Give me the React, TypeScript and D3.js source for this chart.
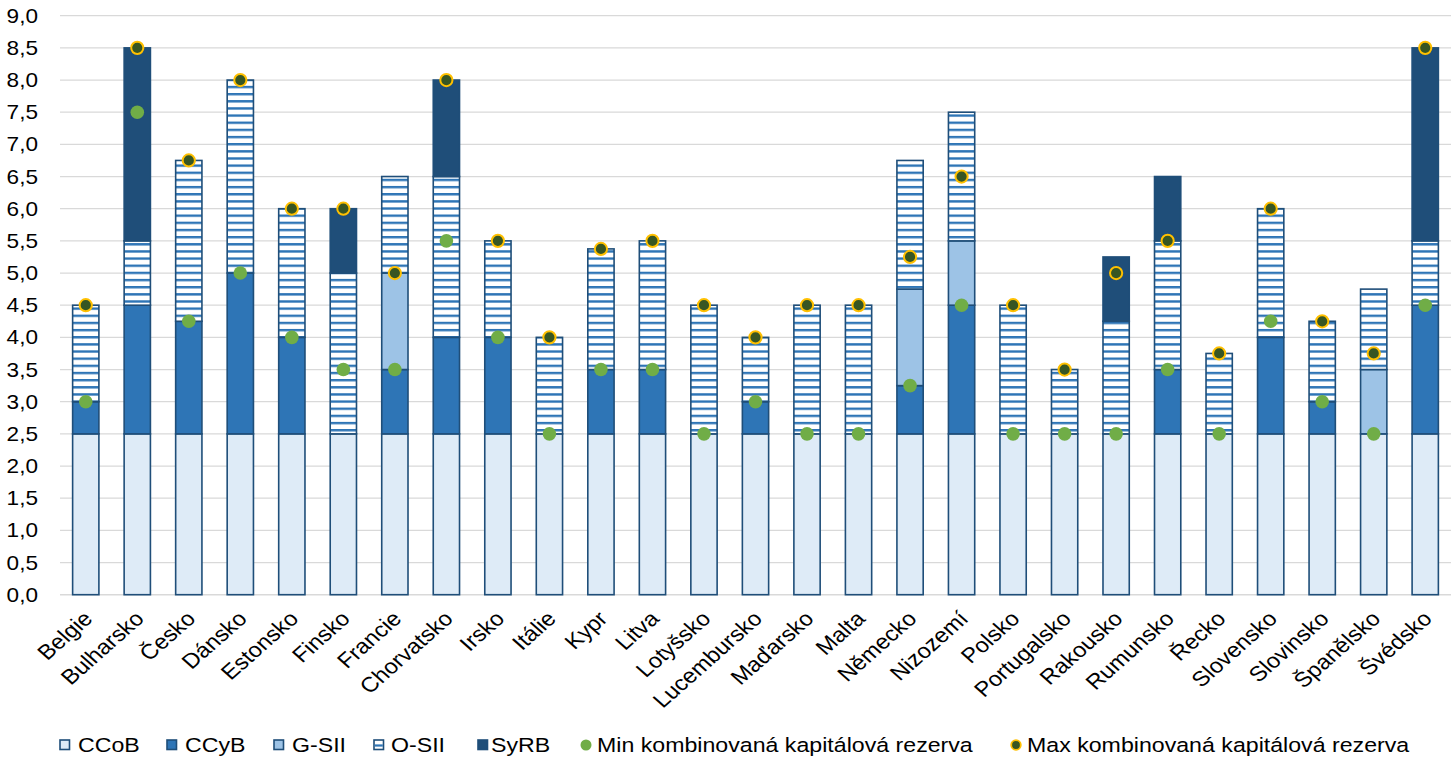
import React from "react";
import * as d3 from "d3";

const categories = ["Belgie","Bulharsko","Česko","Dánsko","Estonsko","Finsko","Francie","Chorvatsko","Irsko","Itálie","Kypr","Litva","Lotyšsko","Lucembursko","Maďarsko","Malta","Německo","Nizozemí","Polsko","Portugalsko","Rakousko","Rumunsko","Řecko","Slovensko","Slovinsko","Španělsko","Švédsko"];
const ccob = [2.5,2.5,2.5,2.5,2.5,2.5,2.5,2.5,2.5,2.5,2.5,2.5,2.5,2.5,2.5,2.5,2.5,2.5,2.5,2.5,2.5,2.5,2.5,2.5,2.5,2.5,2.5];
const ccyb = [0.5,2,1.75,2.5,1.5,0,1,1.5,1.5,0,1,1,0,0.5,0,0,0.75,2,0,0,0,1,0,1.5,0.5,0,2];
const gsii = [0,0,0,0,0,0,1.5,0,0,0,0,0,0,0,0,0,1.5,1,0,0,0,0,0,0,0,1,0];
const osii = [1.5,1,2.5,3,2,2.5,1.5,2.5,1.5,1.5,1.875,2,2,1,2,2,2,2,2,1,1.75,2,1.25,2,1.25,1.25,1];
const syrb = [0,3,0,0,0,1,0,1.5,0,0,0,0,0,0,0,0,0,0,0,0,1,1,0,0,0,0,3];
const minBuffer = [3,7.5,4.25,5,4,3.5,3.5,5.5,4,2.5,3.5,3.5,2.5,3,2.5,2.5,3.25,4.5,2.5,2.5,2.5,3.5,2.5,4.25,3,2.5,4.5];
const maxBuffer = [4.5,8.5,6.75,8,6,6,5,8,5.5,4,5.375,5.5,4.5,4,4.5,4.5,5.25,6.5,4.5,3.5,5,5.5,3.75,6,4.25,3.75,8.5];
const yTicks = [0,0.5,1,1.5,2,2.5,3,3.5,4,4.5,5,5.5,6,6.5,7,7.5,8,8.5,9];

const seriesKeys = ["CCoB","CCyB","G-SII","O-SII","SyRB"];
const seriesValues = [ccob, ccyb, gsii, osii, syrb];
const seriesFill: Record<string,string> = {
  "CCoB": "#DEEBF7",
  "CCyB": "#2E75B6",
  "G-SII": "#9DC3E6",
  "O-SII": "url(#hatch)",
  "SyRB": "#1F4E79",
};
const minLabel = "Min kombinovaná kapitálová rezerva";
const maxLabel = "Max kombinovaná kapitálová rezerva";

const W = 1456, H = 761;
const left = 60, right = 1451, top = 15.7, bottom = 594.7;
const FONT = "'Liberation Sans', Arial, sans-serif";
const SX = 1.13;

export default function App() {
  const rows = categories.map((c, i) => {
    const r: any = { cat: c };
    seriesKeys.forEach((k, j) => (r[k] = seriesValues[j][i]));
    return r;
  });
  const stacked = d3.stack().keys(seriesKeys)(rows);
  const x = d3.scaleBand().domain(categories).range([left, right]).paddingInner(0.49).paddingOuter(0.245);
  const y = d3.scaleLinear().domain([0, 9]).range([bottom, top]);
  const bw = x.bandwidth();
  const fmt = (v: number) => d3.format(".1f")(v).replace(".", ",");

  const legendItems = [
    { type: "rect", key: "CCoB", mx: 60, tx: 78 },
    { type: "rect", key: "CCyB", mx: 167, tx: 185 },
    { type: "rect", key: "G-SII", mx: 274, tx: 292 },
    { type: "rect", key: "O-SII", mx: 374, tx: 391 },
    { type: "rect", key: "SyRB", mx: 478, tx: 491 },
    { type: "min", key: minLabel, mx: 586, tx: 597 },
    { type: "max", key: maxLabel, mx: 1016, tx: 1027 },
  ];
  const ly = 745;

  return (
    <svg width={W} height={H} style={{ position: "absolute", left: 0, top: 0, display: "block", background: "#fff" }} fontFamily={FONT}>
      <defs>
        <pattern id="hatch" patternUnits="userSpaceOnUse" width="8" height="7.15">
          <rect width="8" height="7.15" fill="#fff" />
          <rect y="0" width="8" height="2.4" fill="#2E75B6" />
        </pattern>
      </defs>
      {yTicks.map((t) => (
        <line key={"g" + t} x1={left} x2={right} y1={y(t)} y2={y(t)} stroke="#D9D9D9" strokeWidth={t === 0 ? 1.6 : 1.3} />
      ))}
      {yTicks.map((t) => (
        <text key={"t" + t} transform={`translate(38,${y(t)}) scale(${SX},1)`} textAnchor="end" dy="0.35em" fontSize={20} fill="#000">
          {fmt(t)}
        </text>
      ))}
      {stacked.map((s) => (
        <g key={s.key}>
          {s.map((d, i) => {
            const v = d[1] - d[0];
            if (v <= 0) return null;
            return (
              <rect key={i} x={x(categories[i])!} width={bw} y={y(d[1])} height={y(d[0]) - y(d[1])}
                fill={seriesFill[s.key]} stroke="#1F4E79" strokeWidth={1.6} />
            );
          })}
        </g>
      ))}
      {minBuffer.map((v, i) => (
        <circle key={"mn" + i} cx={x(categories[i])! + bw / 2} cy={y(v)} r={6.8} fill="#70AD47" />
      ))}
      {maxBuffer.map((v, i) => (
        <circle key={"mx" + i} cx={x(categories[i])! + bw / 2} cy={y(v)} r={6.1} fill="#375623" stroke="#FFC000" strokeWidth={2} />
      ))}
      {categories.map((c) => (
        <text key={"x" + c} transform={`translate(${x(c)! + bw / 2 + 8},620) scale(${SX},1) rotate(-45)`} textAnchor="end" fontSize={21} fill="#000">
          {c}
        </text>
      ))}
      {legendItems.map((it) => (
        <g key={"l" + it.key}>
          {it.type === "rect" && (
            <rect x={it.mx} y={ly - 5} width={9.5} height={9.5}
              fill={it.key === "O-SII" ? "#fff" : seriesFill[it.key]} stroke="#1F4E79" strokeWidth={1.6} />
          )}
          {it.type === "rect" && it.key === "O-SII" && (
            <rect x={it.mx + 0.8} y={ly - 0.6} width={8} height={2.2} fill="#2E75B6" />
          )}
          {it.type === "min" && <circle cx={it.mx} cy={ly} r={5.5} fill="#70AD47" />}
          {it.type === "max" && <circle cx={it.mx} cy={ly} r={4.8} fill="#375623" stroke="#FFC000" strokeWidth={1.8} />}
          <text transform={`translate(${it.tx},${ly}) scale(${SX},1)`} dy="0.35em" fontSize={20.5} fill="#000">{it.key}</text>
        </g>
      ))}
    </svg>
  );
}
